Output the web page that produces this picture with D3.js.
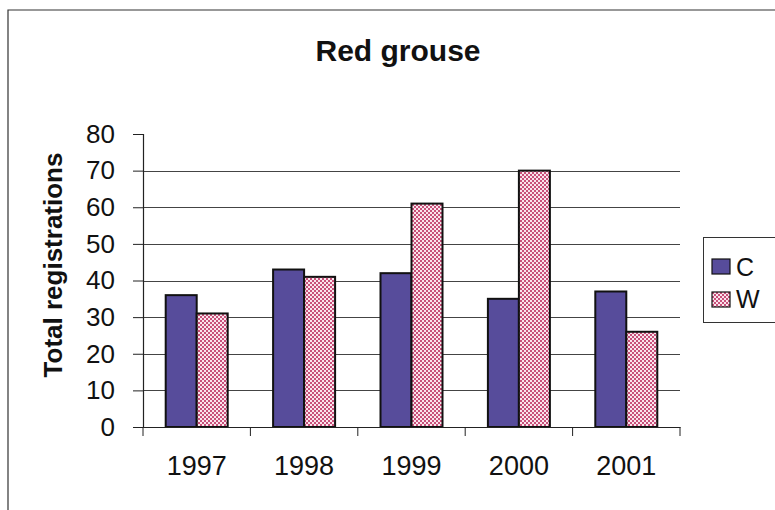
<!DOCTYPE html>
<html>
<head>
<meta charset="utf-8">
<script src="https://cdn.jsdelivr.net/npm/d3@7"></script>
<style>
  html, body { margin: 0; padding: 0; background: #fff; }
  svg { display: block; }
  text { font-family: "Liberation Sans", Arial, sans-serif; fill: #111; }
</style>
</head>
<body>
<svg id="chart" width="775" height="510"></svg>
<script>
// Red grouse registrations by year, two series
const years = ["1997", "1998", "1999", "2000", "2001"];
const seriesNames = ["C", "W"];
const valuesC = [36, 43, 42, 35, 37];
const valuesW = [31, 41, 61, 70, 26];
const yTicks = [0, 10, 20, 30, 40, 50, 60, 70, 80];

const svg = d3.select("#chart");
const W = 775, H = 510;
const plot = { left: 143, right: 680, top: 134, bottom: 427 };

// fill patterns
const defs = svg.append("defs");
const pat = defs.append("pattern")
  .attr("id", "dots").attr("patternUnits", "userSpaceOnUse")
  .attr("width", 4).attr("height", 4);
pat.append("rect").attr("width", 4).attr("height", 4).attr("fill", "#fae4ec");
pat.append("rect").attr("x", 0).attr("y", 0).attr("width", 2).attr("height", 2).attr("fill", "#c8507a");
pat.append("rect").attr("x", 2).attr("y", 2).attr("width", 2).attr("height", 2).attr("fill", "#c8507a");

const fills = { C: "#574c9b", W: "url(#dots)" };

// chart frame
svg.append("path")
  .attr("d", `M8,${H} L8,10 L${W},10`)
  .attr("fill", "none").attr("stroke", "#333").attr("stroke-width", 1.2);

// scales
const x = d3.scaleBand().domain(years).range([plot.left, plot.right]).paddingInner(0).paddingOuter(0);
const y = d3.scaleLinear().domain([0, 80]).range([plot.bottom, plot.top]);
const bw = 31;
const groupOffset = (x.bandwidth() - 2 * bw) / 2;

// gridlines
svg.append("g").selectAll("line")
  .data(yTicks.filter(t => t > 0 && t < 80))
  .join("line")
  .attr("x1", plot.left).attr("x2", plot.right)
  .attr("y1", d => Math.round(y(d)) + 0.5).attr("y2", d => Math.round(y(d)) + 0.5)
  .attr("stroke", "#444").attr("stroke-width", 1);

// y axis
const yAxis = svg.append("g")
  .attr("transform", `translate(${plot.left},0)`)
  .call(d3.axisLeft(y).tickValues(yTicks).tickSize(10).tickPadding(18));
yAxis.select(".domain").attr("stroke", "#222").attr("stroke-width", 1.2);
yAxis.selectAll(".tick line").attr("stroke", "#222");
yAxis.selectAll("text")
  .style("font-family", "'Liberation Sans', Arial, sans-serif")
  .style("font-size", "26px").attr("fill", "#111");

// bars
const series = [
  { name: "C", values: valuesC },
  { name: "W", values: valuesW }
];
series.forEach((s, si) => {
  svg.append("g").selectAll("rect")
    .data(s.values.map((v, i) => ({ year: years[i], v })))
    .join("rect")
    .attr("x", d => x(d.year) + groupOffset + si * bw)
    .attr("y", d => y(d.v))
    .attr("width", bw)
    .attr("height", d => y(0) - y(d.v))
    .attr("fill", fills[s.name])
    .attr("stroke", "#111").attr("stroke-width", 2);
});

// x axis
const xAxis = svg.append("g")
  .attr("transform", `translate(0,${plot.bottom})`)
  .call(d3.axisBottom(x).tickSize(0).tickPadding(29));
xAxis.select(".domain").attr("stroke", "#222").attr("stroke-width", 1.2);
xAxis.selectAll("text")
  .style("font-family", "'Liberation Sans', Arial, sans-serif")
  .style("font-size", "27px").attr("fill", "#111");
// category separator ticks
svg.append("g").selectAll("line")
  .data(years.map(yr => x(yr)).concat([plot.right]))
  .join("line")
  .attr("x1", d => d).attr("x2", d => d)
  .attr("y1", plot.bottom).attr("y2", plot.bottom + 9)
  .attr("stroke", "#222");

// title
svg.append("text")
  .attr("x", 398).attr("y", 61)
  .attr("text-anchor", "middle")
  .style("font-size", "30px").style("font-weight", "bold")
  .text("Red grouse");

// y axis title
svg.append("text")
  .attr("transform", `translate(62,265) rotate(-90)`)
  .attr("text-anchor", "middle")
  .style("font-size", "26px").style("font-weight", "bold")
  .text("Total registrations");

// legend
const lg = svg.append("g");
lg.append("rect")
  .attr("x", 703.5).attr("y", 237.5).attr("width", 90).attr("height", 85)
  .attr("fill", "#fff").attr("stroke", "#333").attr("stroke-width", 1);
seriesNames.forEach((n, i) => {
  lg.append("rect")
    .attr("x", 712).attr("y", 259 + i * 33).attr("width", 18).attr("height", 15)
    .attr("fill", fills[n]).attr("stroke", "#111").attr("stroke-width", 1.2);
  lg.append("text")
    .attr("x", 736).attr("y", 276 + i * 32)
    .style("font-size", "25px")
    .text(n);
});
</script>
</body>
</html>
